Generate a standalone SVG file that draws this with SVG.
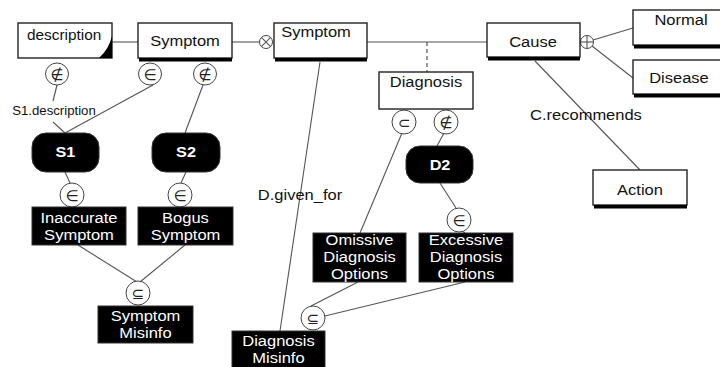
<svg xmlns="http://www.w3.org/2000/svg" width="720" height="367" viewBox="0 0 720 367">
  <style>
    .box { fill: #ffffff; stroke: #222222; stroke-width: 1.4; }
    .bar { fill: #000000; }
    .dark { fill: #000000; stroke: #333333; stroke-width: 1; }
    text { transform-box: fill-box; transform-origin: center; transform: scaleX(1.1); }
    .lbl { font-family: "Liberation Sans", Arial, sans-serif; font-size: 15px; fill: #111111; text-anchor: middle; }
    .wlbl { font-family: "Liberation Sans", Arial, sans-serif; font-size: 14.5px; fill: #ffffff; text-anchor: middle; transform: scaleX(1.14); }
    .wbold { font-family: "Liberation Sans", Arial, sans-serif; font-size: 14.5px; font-weight: bold; fill: #ffffff; text-anchor: middle; transform: scaleX(1.12); }
    .small { font-family: "Liberation Sans", Arial, sans-serif; font-size: 12px; fill: #111111; text-anchor: middle; }
    .edge { stroke: #555555; stroke-width: 1.1; fill: none; }
    .dash { stroke: #444444; stroke-width: 1.1; stroke-dasharray: 4 3; fill: none; }
    .op { fill: #ffffff; stroke: #444444; stroke-width: 1; }
    .sym { font-family: "DejaVu Sans", sans-serif; font-size: 15px; fill: #222222; text-anchor: middle; transform: none; }
  </style>

  <!-- connectors -->
  <g id="connectors">
    <line class="edge" x1="112" y1="42" x2="138" y2="42"/>
    <line class="edge" x1="232" y1="42" x2="259.5" y2="42"/>
    <line class="edge" x1="367" y1="42" x2="487" y2="42"/>
    <line class="dash" x1="427" y1="42" x2="427" y2="72"/>
    <line class="edge" x1="593" y1="40" x2="633" y2="28"/>
    <line class="edge" x1="592" y1="46" x2="633" y2="78"/>
    <line class="edge" x1="535" y1="61" x2="640" y2="170"/>
    <line class="edge" x1="320" y1="62" x2="280" y2="331"/>
    <!-- description attribute link -->
    <line class="edge" x1="57" y1="85" x2="53" y2="101"/>
    <line class="edge" x1="53" y1="122" x2="65" y2="133"/>
    <line class="edge" x1="153" y1="85" x2="65" y2="133"/>
    <line class="edge" x1="203" y1="85" x2="185" y2="133"/>
    <line class="edge" x1="65" y1="172" x2="70" y2="183"/>
    <line class="edge" x1="186" y1="172" x2="181" y2="183"/>
    <line class="edge" x1="78" y1="245" x2="137" y2="282"/>
    <line class="edge" x1="185" y1="245" x2="140" y2="282"/>
    <!-- diagnosis branch -->
    <line class="edge" x1="402" y1="133" x2="360" y2="233"/>
    <line class="edge" x1="444" y1="133" x2="437" y2="146"/>
    <line class="edge" x1="440" y1="183" x2="456" y2="208"/>
    <line class="edge" x1="462" y1="231" x2="465" y2="233"/>
    <line class="edge" x1="358" y1="282" x2="311" y2="306"/>
    <line class="edge" x1="465" y1="282" x2="325" y2="316"/>
  </g>

  <!-- connector labels -->
  <g id="connector-labels">
    <text class="small" x="54" y="115">S1.description</text>
    <text class="lbl" x="300" y="200">D.given_for</text>
    <text class="lbl" x="586" y="120">C.recommends</text>
  </g>

  <!-- operator symbols -->
  <g id="op-cross">
    <circle class="op" cx="266" cy="42" r="6.5"/>
    <line class="edge" x1="261.4" y1="37.4" x2="270.6" y2="46.6"/>
    <line class="edge" x1="261.4" y1="46.6" x2="270.6" y2="37.4"/>
  </g>
  <g id="op-plus">
    <circle class="op" cx="587" cy="42" r="6.5"/>
    <line class="edge" x1="580.5" y1="42" x2="593.5" y2="42"/>
    <line class="edge" x1="587" y1="35.5" x2="587" y2="48.5"/>
  </g>
  <g id="op-desc-notin"><ellipse class="op" cx="57" cy="74" rx="11.5" ry="11"/><text class="sym" x="57" y="79.5">∉</text></g>
  <g id="op-s1-in"><ellipse class="op" cx="150" cy="74" rx="11.5" ry="11"/><text class="sym" x="150" y="79.5">∈</text></g>
  <g id="op-s2-notin"><ellipse class="op" cx="205" cy="74" rx="11.5" ry="11"/><text class="sym" x="205" y="79.5">∉</text></g>
  <g id="op-inacc-in"><circle class="op" cx="72" cy="195" r="12"/><text class="sym" x="72" y="200.5">∈</text></g>
  <g id="op-bogus-in"><circle class="op" cx="180" cy="195" r="12"/><text class="sym" x="180" y="200.5">∈</text></g>
  <g id="op-sym-subset"><circle class="op" cx="138" cy="293" r="12"/><text class="sym" x="138" y="298.5">⊆</text></g>
  <g id="op-omis-subset"><circle class="op" cx="404" cy="122" r="12"/><text class="sym" x="404" y="127.5">⊂</text></g>
  <g id="op-d2-notin"><circle class="op" cx="446" cy="122" r="12"/><text class="sym" x="446" y="127.5">∉</text></g>
  <g id="op-exc-in"><circle class="op" cx="459" cy="220" r="12"/><text class="sym" x="459" y="225.5">∈</text></g>
  <g id="op-diag-subset"><circle class="op" cx="313" cy="318" r="12"/><text class="sym" x="313" y="323.5">⊆</text></g>

  <!-- entity boxes -->
  <g id="description">
    <rect class="box" x="18" y="23" width="94" height="35"/>
    <path d="M99,58 L112,58 L112,36 Q109,49 99,58 Z" fill="#000000"/>
    <text class="lbl" x="27" y="40" style="text-anchor:start;font-size:14px;transform-origin:left center">description</text>
  </g>
  <g id="symptom-1">
    <rect class="box" x="138" y="23" width="94" height="35"/>
    <rect class="bar" x="139" y="58" width="93" height="3.5"/>
    <text class="lbl" x="185" y="46">Symptom</text>
  </g>
  <g id="symptom-2">
    <rect class="box" x="274" y="23" width="93" height="35"/>
    <rect class="bar" x="275" y="58" width="92" height="3.5"/>
    <text class="lbl" x="316" y="37">Symptom</text>
  </g>
  <g id="cause">
    <rect class="box" x="487" y="23" width="93" height="34"/>
    <rect class="bar" x="488" y="57" width="92" height="3.5"/>
    <text class="lbl" x="533" y="47">Cause</text>
  </g>
  <g id="normal">
    <rect class="box" x="633" y="10" width="100" height="35"/>
    <rect class="bar" x="634" y="45" width="99" height="3.5"/>
    <text class="lbl" x="681" y="25">Normal</text>
  </g>
  <g id="disease">
    <rect class="box" x="633" y="60" width="100" height="34"/>
    <rect class="bar" x="634" y="94" width="99" height="3.5"/>
    <text class="lbl" x="679" y="83">Disease</text>
  </g>
  <g id="diagnosis">
    <rect class="box" x="379" y="72" width="94" height="37"/>
    <text class="lbl" x="426" y="87">Diagnosis</text>
  </g>
  <g id="action">
    <rect class="box" x="593" y="170" width="94" height="35"/>
    <rect class="bar" x="594" y="205" width="93" height="3.5"/>
    <text class="lbl" x="640" y="195">Action</text>
  </g>

  <!-- instance and set nodes -->
  <g id="s1">
    <rect class="dark" x="32" y="133" width="67" height="39" rx="14" ry="14"/>
    <text class="wbold" x="65.5" y="157.5">S1</text>
  </g>
  <g id="s2">
    <rect class="dark" x="152" y="133" width="68" height="39" rx="14" ry="14"/>
    <text class="wbold" x="186" y="157.5">S2</text>
  </g>
  <g id="d2">
    <rect class="dark" x="406" y="146" width="67" height="37" rx="14" ry="14"/>
    <text class="wbold" x="440" y="170">D2</text>
  </g>
  <g id="inaccurate-symptom">
    <rect class="dark" x="32" y="207" width="94" height="38"/>
    <text class="wlbl" x="79" y="223">Inaccurate</text>
    <text class="wlbl" x="79" y="240">Symptom</text>
  </g>
  <g id="bogus-symptom">
    <rect class="dark" x="138" y="207" width="95" height="38"/>
    <text class="wlbl" x="185.5" y="223">Bogus</text>
    <text class="wlbl" x="185.5" y="240">Symptom</text>
  </g>
  <g id="symptom-misinfo">
    <rect class="dark" x="98" y="306" width="95" height="37"/>
    <text class="wlbl" x="145.5" y="321">Symptom</text>
    <text class="wlbl" x="145.5" y="338">Misinfo</text>
  </g>
  <g id="omissive-options">
    <rect class="dark" x="313" y="233" width="93" height="49"/>
    <text class="wlbl" x="359.5" y="245">Omissive</text>
    <text class="wlbl" x="359.5" y="262">Diagnosis</text>
    <text class="wlbl" x="359.5" y="279">Options</text>
  </g>
  <g id="excessive-options">
    <rect class="dark" x="419" y="233" width="94" height="49"/>
    <text class="wlbl" x="466" y="245">Excessive</text>
    <text class="wlbl" x="466" y="262">Diagnosis</text>
    <text class="wlbl" x="466" y="279">Options</text>
  </g>
  <g id="diagnosis-misinfo">
    <rect class="dark" x="232" y="331" width="93" height="40"/>
    <text class="wlbl" x="278.5" y="346">Diagnosis</text>
    <text class="wlbl" x="278.5" y="363">Misinfo</text>
  </g>
</svg>
